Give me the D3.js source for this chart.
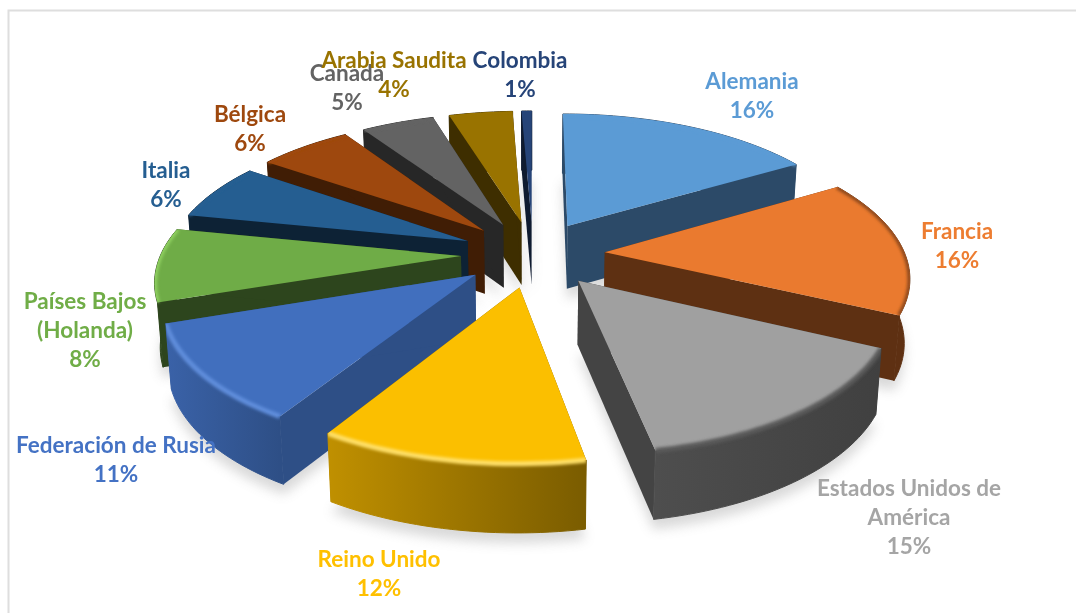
<!DOCTYPE html>
<html>
<head>
<meta charset="utf-8">
<script src="https://cdn.jsdelivr.net/npm/d3@7"></script>
<style>
  html, body { margin: 0; padding: 0; background: #fff; }
  text { font-family: Lato, "Open Sans", sans-serif; font-weight: 700; font-size: 22.5px; text-anchor: middle; }
</style>
</head>
<body>
<div id="plot"></div>
<script>
// data
var categories = ["Alemania", "Francia", "Estados Unidos de América", "Reino Unido", "Federación de Rusia",
    "Países Bajos (Holanda)", "Italia", "Bélgica", "Canada", "Arabia Saudita", "Colombia"];
// printed percentages
var percentLabels = ["16%", "16%", "15%", "12%", "11%", "8%", "6%", "6%", "5%", "4%", "1%"];
// shares as measured from the slices in the picture
var values = [16.4, 15.7, 14.9, 11.8, 11, 8.4, 6.5, 5.95, 4.65, 4.05, 0.65];

// colours, same order as categories
var topColors = ["#5b9bd5", "#ea7a2f", "#a0a0a0", "#fbbf00", "#416fbe", "#6fac47", "#255e91", "#9e480e", "#636363", "#997300", "#264478"];
var wallLeft = ["#2c4a68", "#5e3012", "#4e4e4e", "#c09000", "#3a62a8", "#2d451d", "#0d2235", "#401d05", "#272727", "#3e2e00", "#0f1b30"];
var wallRight = ["#2c4a68", "#5e3012", "#404040", "#7a5c00", "#2e4f86", "#2d451d", "#0d2235", "#401d05", "#272727", "#3e2e00", "#0f1b30"];
var sideColors = ["#2c4a68", "#5e3012", "#444444", "#7a5c00", "#2e4f86", "#2d451d", "#0d2235", "#401d05", "#272727", "#3e2e00", "#0f1b30"];
var bevelColors = ["#5b9bd5", "#8f4a1c", "#5a5a5a", "#ffdf66", "#5f8ddb", "#8fd060", "#255e91", "#9e480e", "#636363", "#997300", "#264478"];
var textColors = ["#5b9bd5", "#ed7d31", "#a5a5a5", "#ffc000", "#4472c4", "#70ad47", "#255e91", "#9e480e", "#636363", "#997300", "#264478"];

// label layout: wrapped lines and centre of the first line
var labelLines = [["Alemania"], ["Francia"], ["Estados Unidos de", "América"], ["Reino Unido"], ["Federación de Rusia"],
    ["Países Bajos", "(Holanda)"], ["Italia"], ["Bélgica"], ["Canada"], ["Arabia Saudita"], ["Colombia"]];
var labelAt = [[752, 81], [957, 231], [909, 488], [379, 559], [116, 445], [85, 301], [166, 170], [250, 114], [347, 73], [394, 60], [520, 60]];

var width = 1076, height = 613;
var explode = 0.24;

// perspective of the pie plane
var cx = 533, persp = 0.155;
var scaleX = d3.scaleLinear().domain([0, 1]).range([0, 300]);
var scaleY = d3.scaleLinear().domain([-1, 1]).range([351.8, 155.8]);

function project(x, y, bottom) {
    var den = 1 + persp * y;
    var px = scaleX(x) / den;
    var py = scaleY(y) / den;
    if (bottom) {
        px = px * 0.985;
        py = py + 63.5 / Math.pow(den, 0.4);
    }
    return [cx + px, py];
}

var svg = d3.select("#plot").append("svg").attr("width", width).attr("height", height);
var defs = svg.append("defs");
defs.append("filter").attr("id", "soft").attr("x", "-20%").attr("y", "-20%").attr("width", "140%").attr("height", "140%")
    .append("feGaussianBlur").attr("stdDeviation", 6);
defs.append("filter").attr("id", "bevel").attr("x", "-20%").attr("y", "-20%").attr("width", "140%").attr("height", "140%")
    .append("feGaussianBlur").attr("stdDeviation", 1.8);

// chart frame
svg.append("rect").attr("x", 8.5).attr("y", 10.5).attr("width", 1100).attr("height", 700)
    .attr("fill", "#fff").attr("stroke", "#dedede").attr("stroke-width", 2);

var pie = d3.pie().sort(null).value(function (d) { return d; });
var slices = pie(values).map(function (d, i) {
    var mid = (d.startAngle + d.endAngle) / 2;
    return {
        i: i, a0: d.startAngle, a1: d.endAngle, mid: mid,
        ex: explode * Math.sin(mid), ey: explode * Math.cos(mid)
    };
});

function rim(s, bottom) {
    var n = Math.max(4, Math.round((s.a1 - s.a0) * 40));
    return d3.range(n + 1).map(function (k) {
        var a = s.a0 + (s.a1 - s.a0) * k / n;
        return project(s.ex + Math.sin(a), s.ey + Math.cos(a), bottom);
    });
}
function apex(s, bottom) { return project(s.ex, s.ey, bottom); }

var line = d3.line();
function closed(pts) { return line(pts) + "Z"; }

// soft shadow on the ground
svg.append("g").attr("filter", "url(#soft)").attr("opacity", 0.28).selectAll("path")
    .data(slices).enter().append("path")
    .attr("fill", "#777")
    .attr("transform", "translate(0,10)")
    .attr("d", function (s) { return closed([apex(s, true)].concat(rim(s, true))); });

// back slices first
var order = slices.slice().sort(function (a, b) { return b.ey - a.ey; });

order.forEach(function (s) {
    var g = svg.append("g");
    var top = rim(s, false), bot = rim(s, true);
    var last = top.length - 1;

    // radial walls
    g.append("path").attr("fill", sideColors[s.i])
        .attr("d", closed([apex(s, false), top[0], bot[0], apex(s, true)]));
    g.append("path").attr("fill", sideColors[s.i])
        .attr("d", closed([apex(s, false), top[last], bot[last], apex(s, true)]));

    // outer wall
    var xs = d3.extent(top, function (p) { return p[0]; });
    var grad = defs.append("linearGradient").attr("id", "wall" + s.i)
        .attr("gradientUnits", "userSpaceOnUse")
        .attr("x1", xs[0]).attr("x2", xs[1]).attr("y1", 0).attr("y2", 0);
    grad.append("stop").attr("offset", 0).attr("stop-color", wallLeft[s.i]);
    grad.append("stop").attr("offset", 1).attr("stop-color", wallRight[s.i]);
    var wallPath = closed(top.concat(bot.slice().reverse()));
    g.append("path").attr("fill", "url(#wall" + s.i + ")")
        .attr("stroke", "url(#wall" + s.i + ")").attr("stroke-width", 1).attr("stroke-linejoin", "round")
        .attr("d", wallPath);

    // top face, the bevel runs along the rim over top and wall
    var topPath = closed([apex(s, false)].concat(top));
    g.append("path").attr("fill", topColors[s.i]).attr("d", topPath);
    g.append("clipPath").attr("id", "clip" + s.i).append("path").attr("d", topPath + wallPath);
    g.append("g").attr("clip-path", "url(#clip" + s.i + ")")
        .append("path").attr("fill", "none").attr("stroke", bevelColors[s.i])
        .attr("stroke-width", 5).attr("filter", "url(#bevel)")
        .attr("d", line(top));
});

// labels
var labels = svg.append("g").selectAll("text")
    .data(categories).enter().append("text")
    .attr("fill", function (d, i) { return textColors[i]; })
    .attr("y", function (d, i) { return labelAt[i][1] + 7.5; });

labels.each(function (d, i) {
    var t = d3.select(this);
    labelLines[i].concat(percentLabels[i]).forEach(function (l, k) {
        t.append("tspan").attr("x", labelAt[i][0]).attr("dy", k ? 29.3 : 0).text(l);
    });
});
</script>
</body>
</html>
